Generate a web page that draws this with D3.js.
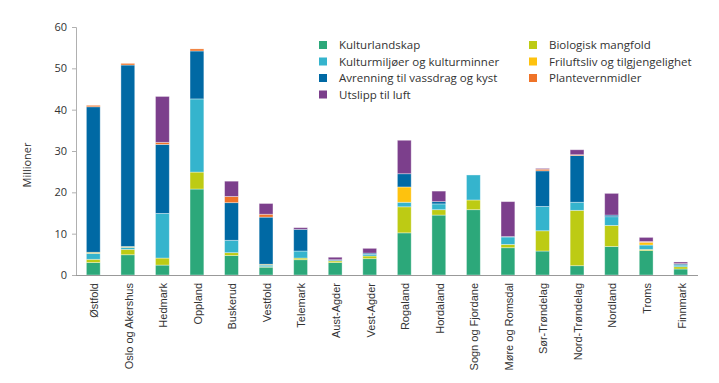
<!DOCTYPE html>
<html><head><meta charset="utf-8">
<script src="https://cdn.jsdelivr.net/npm/d3@7/dist/d3.min.js"></script>
<style>body{margin:0;background:#fff;} svg{display:block;font-family:"Open Sans",sans-serif;}</style>
</head><body><svg id="c" width="719" height="383"></svg>
<script>
const categories = ["Østfold","Oslo og Akershus","Hedmark","Oppland","Buskerud","Vestfold","Telemark","Aust-Agder","Vest-Agder","Rogaland","Hordaland","Sogn og Fjordane","Møre og Romsdal","Sør-Trøndelag","Nord-Trøndelag","Nordland","Troms","Finnmark"];
const seriesNames = ["Kulturlandskap","Biologisk mangfold","Kulturmiljøer og kulturminner","Friluftsliv og tilgjengelighet","Avrenning til vassdrag og kyst","Plantevernmidler","Utslipp til luft"];
const kulturlandskap = [3.0,4.9,2.4,20.8,4.7,1.9,3.7,3.0,3.95,10.2,14.5,15.8,6.6,5.8,2.25,6.9,5.9,1.45];
const biologisk      = [0.8,1.3,1.7,4.1,0.7,0.1,0.4,0.4,0.65,6.3,1.3,2.35,0.8,4.9,13.4,5.1,0.3,0.55];
const kulturmiljo    = [1.45,0.5,10.8,17.7,3.0,0.4,1.7,0.1,0.4,1.1,1.4,6.05,1.8,5.9,1.95,2.1,1.05,0.4];
const friluftsliv    = [0.25,0.2,0,0,0,0.2,0,0,0,3.7,0,0,0,0,0,0,0.65,0];
const avrenning      = [35.2,43.9,16.7,11.6,9.1,11.4,5.25,0.2,0.3,3.2,0.55,0,0.1,8.6,11.3,0.4,0,0.25];
const plantevern     = [0.35,0.4,0.5,0.5,1.5,0.7,0,0,0,0,0,0,0,0.4,0.2,0,0.2,0.1];
const utslipp        = [0,0,11.1,0,3.7,2.6,0.4,0.6,1.15,8.1,2.55,0,8.45,0.2,1.2,5.25,1.0,0.4];
const yTicks = [0,10,20,30,40,50,60];
const colors = ["#2ca87a","#bdcb14","#35b4cd","#fec20e","#0069a4","#ef7328","#7c3f8c"];
const legendOrder = [0,2,4,6,1,3,5];

const seriesVals = [kulturlandskap,biologisk,kulturmiljo,friluftsliv,avrenning,plantevern,utslipp];
const rows = categories.map((c,i)=>{const o={cat:c}; seriesNames.forEach((s,j)=>o[s]=seriesVals[j][i]); return o;});
const stack = d3.stack().keys(seriesNames)(rows);

const svg = d3.select("#c");
const x = d3.scaleBand().domain(categories).range([76,698]).paddingInner(0.6).paddingOuter(0.3);
const y = d3.scaleLinear().domain([0,60]).range([275,27]);

// y axis
const ya = svg.append("g").attr("transform","translate(76,0)")
  .call(d3.axisLeft(y).tickValues(yTicks).tickSize(4).tickPadding(5));
ya.select(".domain").attr("stroke","#b0b0b0");
ya.selectAll(".tick line").attr("stroke","#b0b0b0");
ya.selectAll("text").attr("font-size",11).attr("fill","#333").attr("font-family","Open Sans");

svg.append("text").attr("transform","translate(31,165) rotate(-90)").attr("text-anchor","middle")
  .attr("font-size",11).attr("fill","#333").text("Millioner");

// bars
svg.append("g").selectAll("g").data(stack).join("g").attr("fill",(d,i)=>colors[i])
  .selectAll("rect").data(d=>d).join("rect")
  .attr("x",d=>x(d.data.cat)).attr("width",x.bandwidth())
  .attr("y",d=>y(d[1])).attr("height",d=>Math.max(0,y(d[0])-y(d[1])))
  .attr("stroke","#ffffff").attr("stroke-opacity",0.45).attr("stroke-width",0.8);

// x axis
const xa = svg.append("g").attr("transform","translate(0,275)")
  .call(d3.axisBottom(x).tickSize(0).tickPadding(0));
xa.select(".domain").attr("stroke","#999").attr("d","M76,0.5H698");
xa.selectAll("text").attr("font-size",11).attr("fill","#333")
  .attr("transform","rotate(-90)").attr("text-anchor","end")
  .attr("x",-8).attr("y",1).attr("dy","0.35em").attr("dx",0);

// legend
const lg = svg.append("g");
legendOrder.forEach((si,k)=>{
  const col = k<4?0:1, row = k<4?k:k-4;
  const gx = col===0?323:533, gy = 45+row*16.5;
  lg.append("rect").attr("x",gx-4).attr("y",gy-4).attr("width",8).attr("height",8).attr("fill",colors[si]);
  lg.append("text").attr("x",gx+16).attr("y",gy).attr("dy","0.35em").attr("font-size",11.5).attr("fill","#333").text(seriesNames[si]);
});
</script></body></html>
